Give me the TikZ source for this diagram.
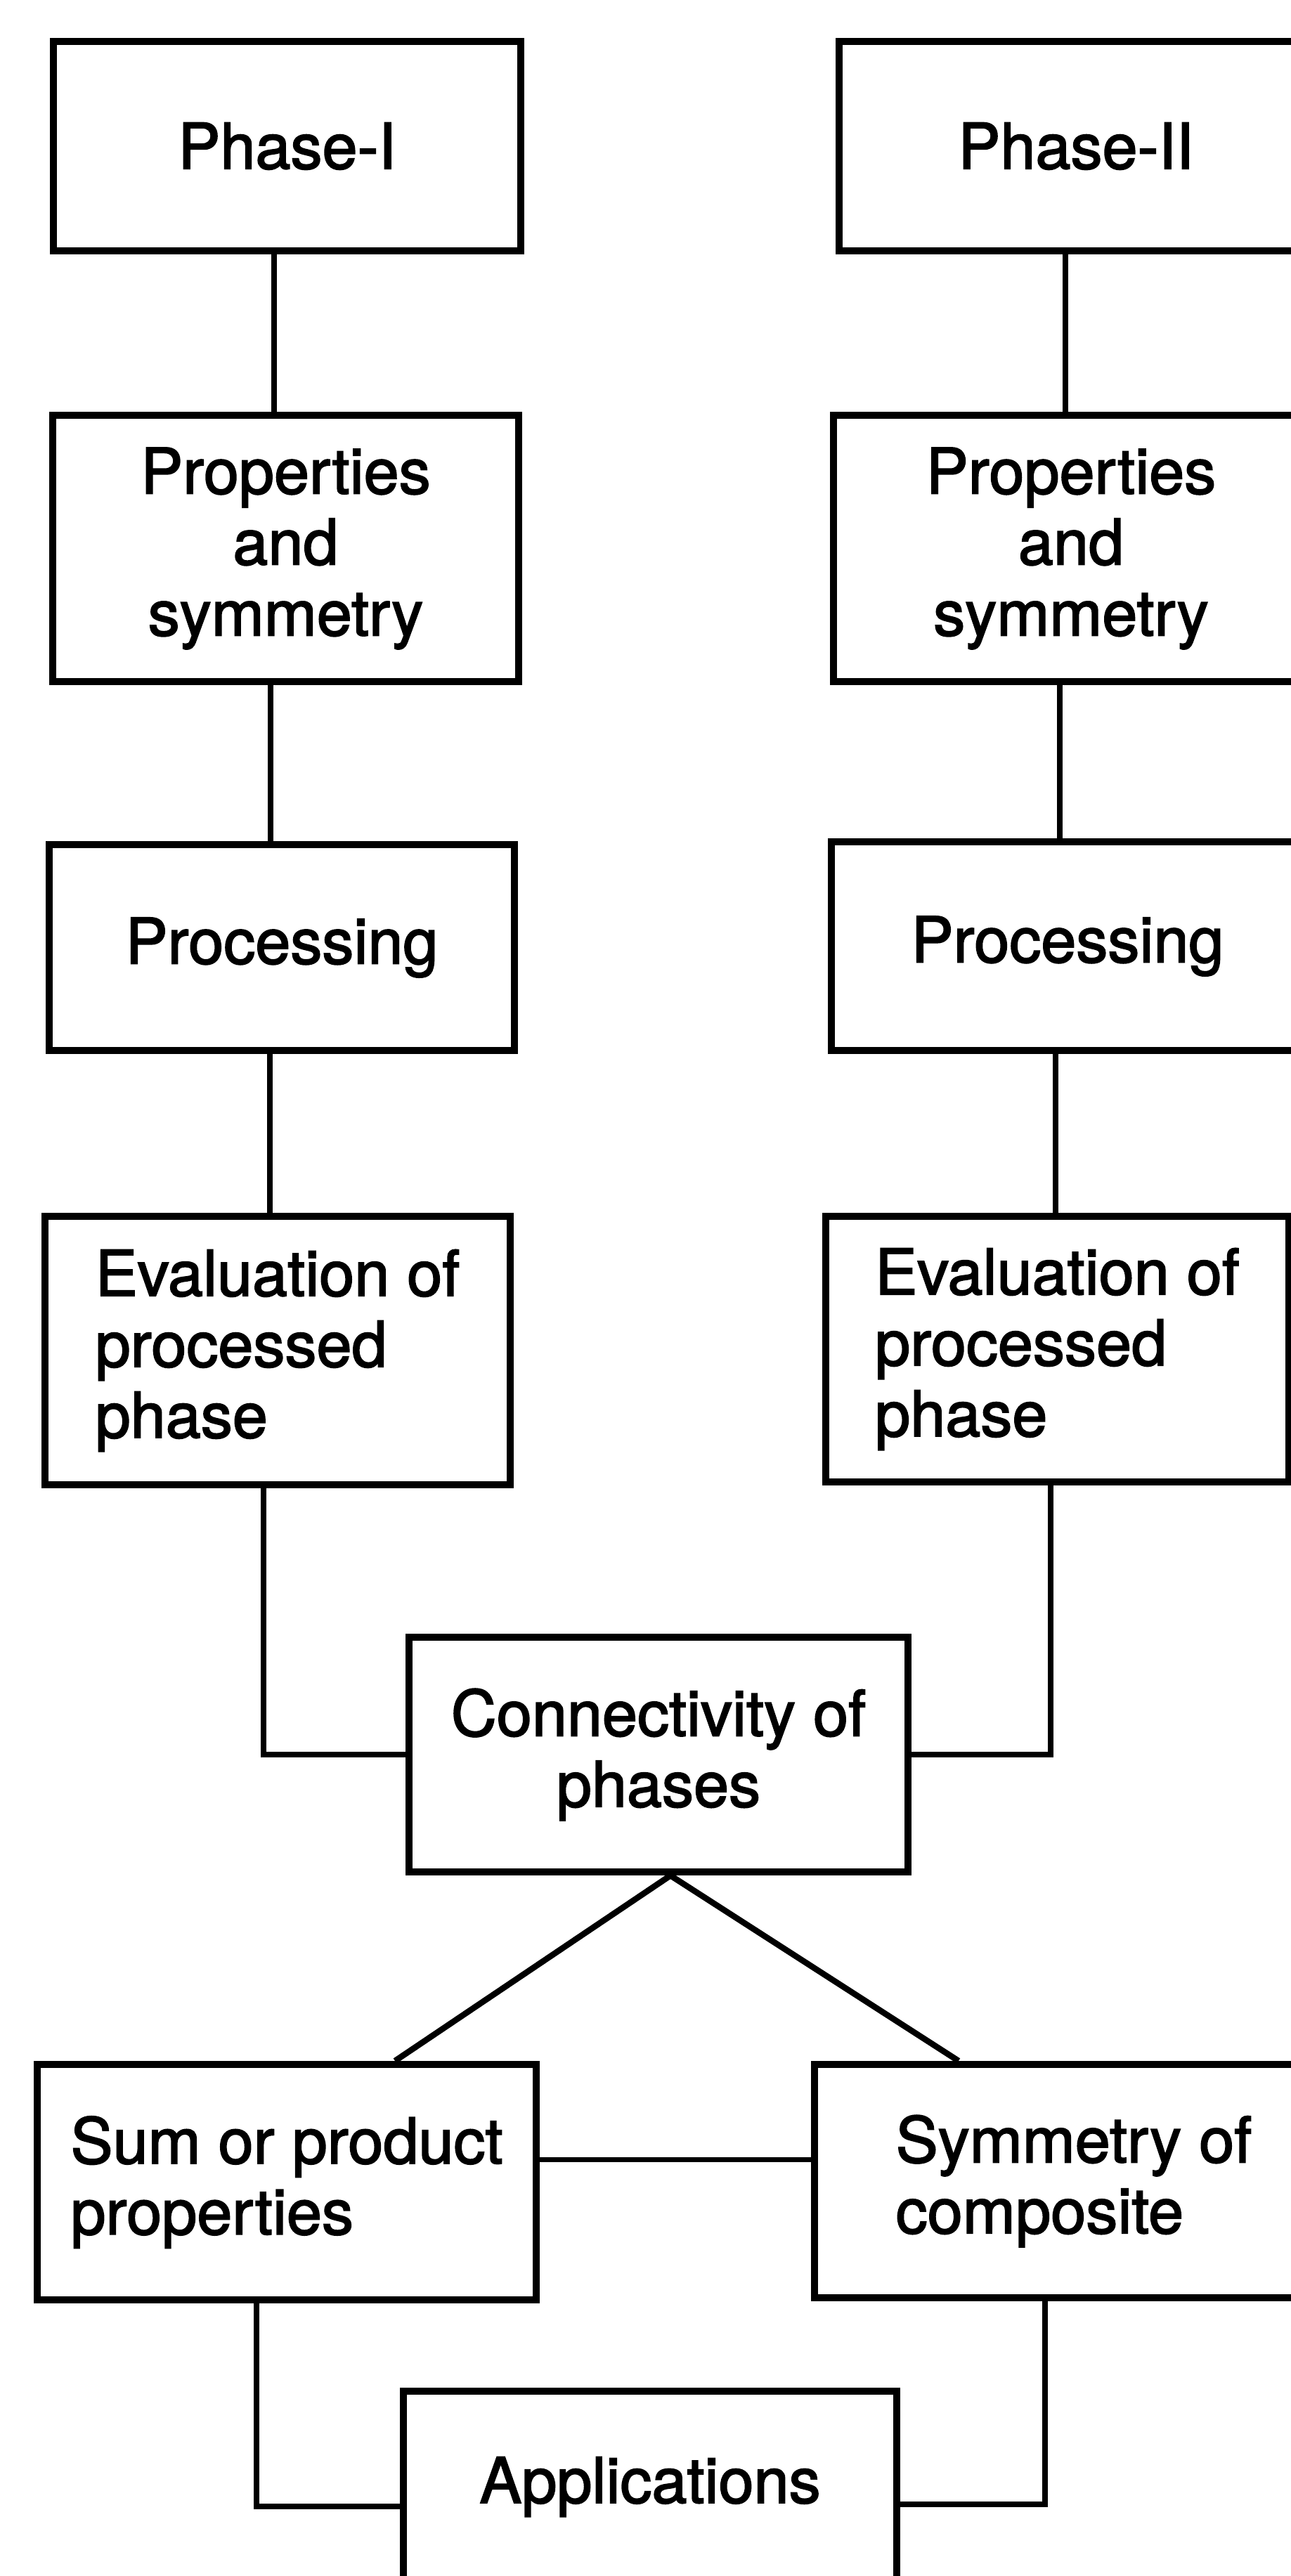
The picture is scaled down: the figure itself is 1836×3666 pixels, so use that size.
\documentclass[tikz,border=0pt]{standalone}
\usepackage{fontspec}
\setmainfont{TeX Gyre Heros}[FakeBold=2]
\begin{document}
\begin{tikzpicture}[x=0.01cm,y=-0.01cm,
  box/.style={draw,line width=0.10cm,rectangle,inner sep=0pt,
    font=\fontsize{25.6}{28.7}\selectfont,align=center},
  lbox/.style={box,align=left},
  conn/.style={line width=0.075cm,line cap=rect}]
\useasboundingbox (0,0) rectangle (1836,3666);
% left column
\node[box,minimum width=6.65cm,minimum height=2.98cm] (p1) at (408.5,208) {Phase-I};
\node[box,minimum width=6.63cm,minimum height=3.79cm] (pr1) at (406.5,780.5) {Properties\\and\\symmetry};
\node[box,minimum width=6.62cm,minimum height=2.93cm] (pc1) at (401,1348.5) {Processing};
\node[lbox,minimum width=6.62cm,minimum height=3.82cm] (ev1) at (395,1922) {Evaluation of\\processed\\phase};
% right column
\node[box,minimum width=6.74cm,minimum height=2.98cm] (p2) at (1531,208) {Phase-II};
\node[box,minimum width=6.76cm,minimum height=3.79cm] (pr2) at (1524,780.5) {Properties\\and\\symmetry};
\node[box,minimum width=6.72cm,minimum height=2.97cm] (pc2) at (1519,1346.5) {Processing};
\node[lbox,minimum width=6.59cm,minimum height=3.78cm] (ev2) at (1504.5,1920) {Evaluation of\\processed\\phase};
% middle
\node[box,minimum width=7.10cm,minimum height=3.34cm] (cn) at (937,2497) {Connectivity of\\phases};
\node[lbox,minimum width=7.10cm,minimum height=3.35cm] (sm) at (408,3105.5) {Sum or product\\properties};
\node[lbox,minimum width=7.38cm,minimum height=3.32cm] (sy) at (1528,3104) {Symmetry of\\composite};
\node[box,minimum width=7.02cm,minimum height=2.72cm] (ap) at (925,3539) {Applications};
% connectors, left column
\draw[conn] ([xshift=-0.185cm]p1.south) -- ([xshift=-0.185cm]p1.south |- pr1.north);
\draw[conn] ([xshift=-0.215cm]pr1.south) -- ([xshift=-0.215cm]pr1.south |- pc1.north);
\draw[conn] ([xshift=-0.17cm]pc1.south) -- ([xshift=-0.17cm]pc1.south |- ev1.north);
% connectors, right column
\draw[conn] ([xshift=-0.15cm]p2.south) -- ([xshift=-0.15cm]p2.south |- pr2.north);
\draw[conn] ([xshift=-0.16cm]pr2.south) -- ([xshift=-0.16cm]pr2.south |- pc2.north);
\draw[conn] ([xshift=-0.17cm]pc2.south) -- ([xshift=-0.17cm]pc2.south |- ev2.north);
% to connectivity
\draw[conn] ([xshift=-0.2cm]ev1.south) |- (cn.west);
\draw[conn] ([xshift=-0.095cm]ev2.south) |- (cn.east);
% connectivity to lower boxes
\draw[line width=0.085cm] ([xshift=1.54cm]sm.north) -- ([xshift=0.17cm]cn.south) -- ([xshift=-1.64cm]sy.north);
\draw[conn] ([yshift=0.32cm]sm.east) -- ([yshift=0.32cm]sm.east -| sy.west);
% to applications
\draw[conn] ([xshift=-0.43cm]sm.south) |- ([yshift=-0.28cm]ap.west);
\draw[conn] ([xshift=-0.41cm]sy.south) |- ([yshift=-0.25cm]ap.east);
\end{tikzpicture}
\end{document}
